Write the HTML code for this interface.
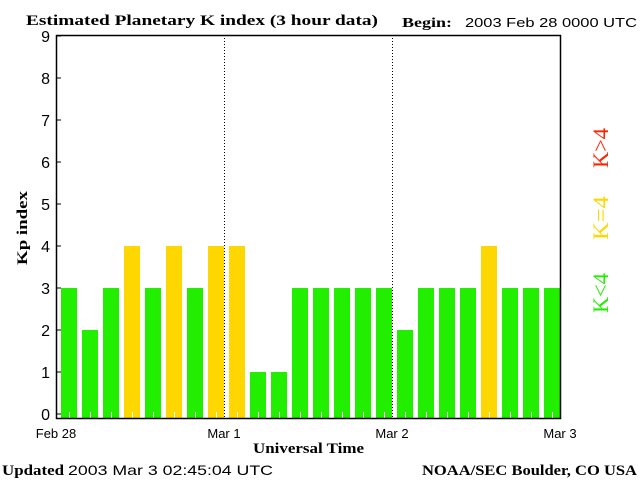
<!DOCTYPE html>
<html><head><meta charset="utf-8"><style>
body{margin:0;background:#fff;}
svg{display:block;font-family:"Liberation Serif",serif;}
.b{font-weight:bold;}
.s{font-family:"Liberation Sans",sans-serif;}
</style></head><body>
<svg id="c" width="640" height="480" xmlns="http://www.w3.org/2000/svg">
<text x="26" y="25" font-size="15" class="b" textLength="352" lengthAdjust="spacingAndGlyphs">Estimated Planetary K index (3 hour data)</text>
<text x="402" y="27" font-size="14" class="b" textLength="50" lengthAdjust="spacingAndGlyphs">Begin:</text>
<text x="465" y="27" font-size="13" class="s" textLength="172" lengthAdjust="spacingAndGlyphs">2003 Feb 28 0000 UTC</text>
<g id="plot"></g>
<text transform="translate(27,228) rotate(-90)" text-anchor="middle" font-size="15" class="b" textLength="74" lengthAdjust="spacingAndGlyphs">Kp index</text>
<text x="253" y="453" font-size="15" class="b" textLength="111" lengthAdjust="spacingAndGlyphs">Universal Time</text>
<text x="2" y="475" font-size="15" class="b" textLength="62" lengthAdjust="spacingAndGlyphs">Updated</text>
<text x="68" y="475" font-size="14" class="s" textLength="205" lengthAdjust="spacingAndGlyphs">2003 Mar  3 02:45:04 UTC</text>
<text x="422" y="475" font-size="15" class="b" textLength="215" lengthAdjust="spacingAndGlyphs">NOAA/SEC Boulder, CO USA</text>
<text transform="translate(608,148) rotate(-90)" text-anchor="middle" font-size="22" fill="#ff2200" textLength="40" lengthAdjust="spacingAndGlyphs">K&gt;4</text>
<text transform="translate(608,218) rotate(-90)" text-anchor="middle" font-size="22" fill="#ffd700" textLength="44" lengthAdjust="spacingAndGlyphs">K=4</text>
<text transform="translate(608,293) rotate(-90)" text-anchor="middle" font-size="22" fill="#22ee00" textLength="40" lengthAdjust="spacingAndGlyphs">K&lt;4</text>
</svg>
<script>
const kpValues=[3,2,3,4,3,4,3,4,4,1,1,3,3,3,3,3,2,3,3,3,4,3,3,3];
const yTicks=[0,1,2,3,4,5,6,7,8,9];
const dayLabels=["Feb 28","Mar 1","Mar 2","Mar 3"];
const NS="http://www.w3.org/2000/svg";
const g=document.getElementById('plot');
const L=56,R=560,T=35,B=418;
const slot=(R-L)/kpValues.length;
const y=v=>414-42*v;
const x=i=>L+i*slot;
function mk(t,a){const e=document.createElementNS(NS,t);for(const k in a)e.setAttribute(k,a[k]);g.appendChild(e);return e;}
kpValues.forEach((v,i)=>{
  const col=v>4?"#ff2200":(v==4?"#ffd700":"#22ee00");
  const r=mk('rect',{x:x(i)+5,y:y(v),width:16,height:B-y(v),fill:col});
  
  
  const t=mk('line',{x1:x(i)+13.5,x2:x(i)+13.5,y1:B-6,y2:B,stroke:"#fff","stroke-width":1});
  
  
});
for(let d=1;d<dayLabels.length-1;d++){
  const xx=L+d*(R-L)/(dayLabels.length-1)+0.5;
  const l=mk('line',{x1:xx,x2:xx,y1:T,y2:B,stroke:"#000","stroke-dasharray":"1,2"});
  
  
}
const f=mk('rect',{x:L+0.5,y:T+0.5,width:R-L,height:B-T,fill:"none",stroke:"#000","stroke-width":1.5});


yTicks.forEach(v=>{
  const tk=mk('line',{x1:L,x2:L+5,y1:y(v),y2:y(v),stroke:"#000"});
  
  
  const t=mk('text',{x:L-6,y:y(v)+6,"text-anchor":"end","font-size":"16","font-family":"Liberation Sans,sans-serif"});
  t.textContent=v;
  
  
});
dayLabels.forEach((s,d)=>{
  const t=mk('text',{x:L+d*(R-L)/(dayLabels.length-1),y:438,"text-anchor":"middle","font-size":"13","font-family":"Liberation Sans,sans-serif"});
  t.textContent=s;
  
  
});
</script>
</body></html>
